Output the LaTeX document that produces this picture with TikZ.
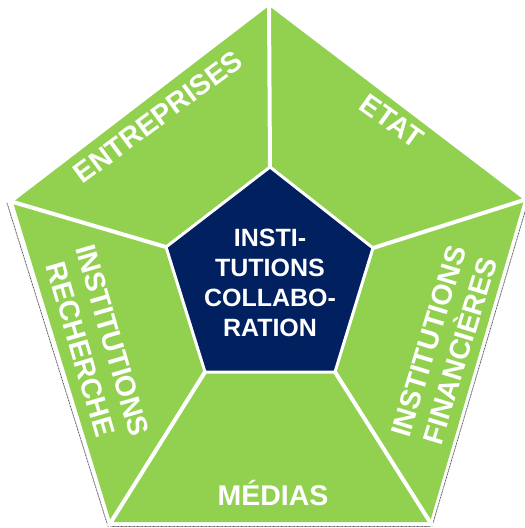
\documentclass[tikz,border=0pt]{standalone}
\usepackage{fontspec}
\setmainfont{Liberation Sans}
\definecolor{pgreen}{HTML}{92D050}
\definecolor{pnavy}{HTML}{002060}
\begin{document}
\begin{tikzpicture}[x=1pt,y=-1pt,
  lab/.style={text=white,font=\fontsize{28.5}{33}\selectfont\bfseries,align=center,inner sep=0pt},
  midlab/.style={text=white,font=\fontsize{25}{30}\selectfont\bfseries,align=center,inner sep=0pt},
  sepline/.style={white,line width=4pt,shorten >=-5pt},
  shadowline/.style={black!65,line width=0.8pt,dash pattern=on 1pt off 0.6pt}]
\useasboundingbox (0,0) rectangle (525,528);
% outer vertices
\coordinate (T) at (269,6);
\coordinate (R) at (524,200);
\coordinate (BR) at (430,522);
\coordinate (BL) at (111,522);
\coordinate (L) at (13,202);
% shadow vertices
\coordinate (Ls) at (7,203);
\coordinate (BLs) at (108,526.5);
\coordinate (BRs) at (432,526.5);
\coordinate (Rs) at (527,205);
% inner vertices
\coordinate (t) at (270,167);
\coordinate (r) at (373,248);
\coordinate (br) at (335,372);
\coordinate (bl) at (205,372);
\coordinate (l) at (166,247);
\draw[shadowline] (Ls) -- (BLs) -- (BRs) -- (Rs);
\fill[pgreen] (T) -- (R) -- (BR) -- (BL) -- (L) -- cycle;
\draw[sepline] (t) -- (T);
\draw[sepline] (r) -- (R);
\draw[sepline] (br) -- (BR);
\draw[sepline] (bl) -- (BL);
\draw[sepline] (l) -- (L);
\filldraw[fill=pnavy,draw=white,line width=3pt] (t) -- (r) -- (br) -- (bl) -- (l) -- cycle;
\node[midlab] (centre) at (270,283) {INSTI-\\TUTIONS\\COLLABO-\\RATION};
\node[lab,rotate=36.5] (entr) at (158,117) {ENTREPRISES};
\node[lab,rotate=-35.5] (etat) at (392,121) {ETAT};
\node[lab,rotate=-73.7] (rech) at (96.5,345) {INSTITUTIONS\\RECHERCHE};
\node[lab,rotate=73] (fin) at (444.5,346) {INSTITUTIONS\\FINANCIÈRES};
\node[lab,anchor=base] (medias) at (273,505) {MÉDIAS};
\end{tikzpicture}
\end{document}
